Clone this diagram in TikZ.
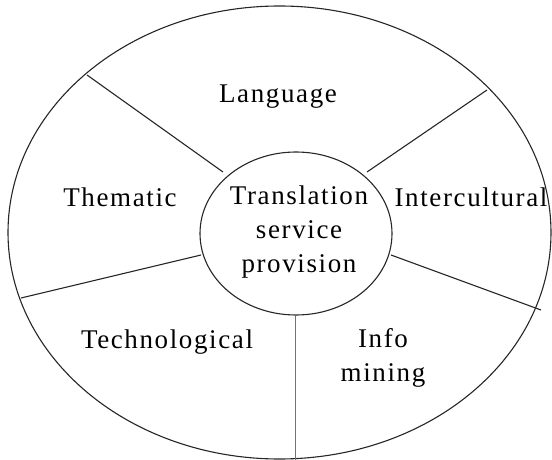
\documentclass[tikz,border=0pt]{standalone}
\usepackage{fontspec}
\setmainfont{Liberation Serif}[LetterSpace=6]
\begin{document}
\begin{tikzpicture}[x=1pt,y=-1pt,
  ln/.style={line width=1.1pt,black!85},
  lbl/.style={font=\fontsize{27}{34}\selectfont,align=center,inner sep=0pt}]
\useasboundingbox (0,0) rectangle (552,460);
\draw[ln] (279.5,232.5) ellipse [x radius=271.5, y radius=226.5];
\draw[ln] (296,233.5) ellipse [x radius=96, y radius=81.5];
% spoke end points
\coordinate (ul1) at (87,75);   \coordinate (ul2) at (223,172);
\coordinate (ur1) at (487,90);  \coordinate (ur2) at (367,172);
\coordinate (l1) at (21,298);   \coordinate (l2) at (201,255);
\coordinate (r1) at (541,310);  \coordinate (r2) at (391,255);
\coordinate (b1) at (295.5,315); \coordinate (b2) at (295.5,460);
\draw[ln] (ul1) -- (ul2);
\draw[ln] (ur1) -- (ur2);
\draw[ln] (l1) -- (l2);
\draw[ln] (r1) -- (r2);
\draw[line width=1.6pt,black!55] (b1) -- (b2);
\node[lbl] (lang) at (278,97) {Language};
\node[lbl] (them) at (120,197) {Thematic};
\node[lbl] (core) at (299,232) {Translation\\service\\provision};
\node[lbl] (inter) at (471,197) {Intercultural};
\node[lbl] (tech) at (167,342) {Technological};
\node[lbl] (info) at (383,358) {Info\\mining};
\end{tikzpicture}
\end{document}
